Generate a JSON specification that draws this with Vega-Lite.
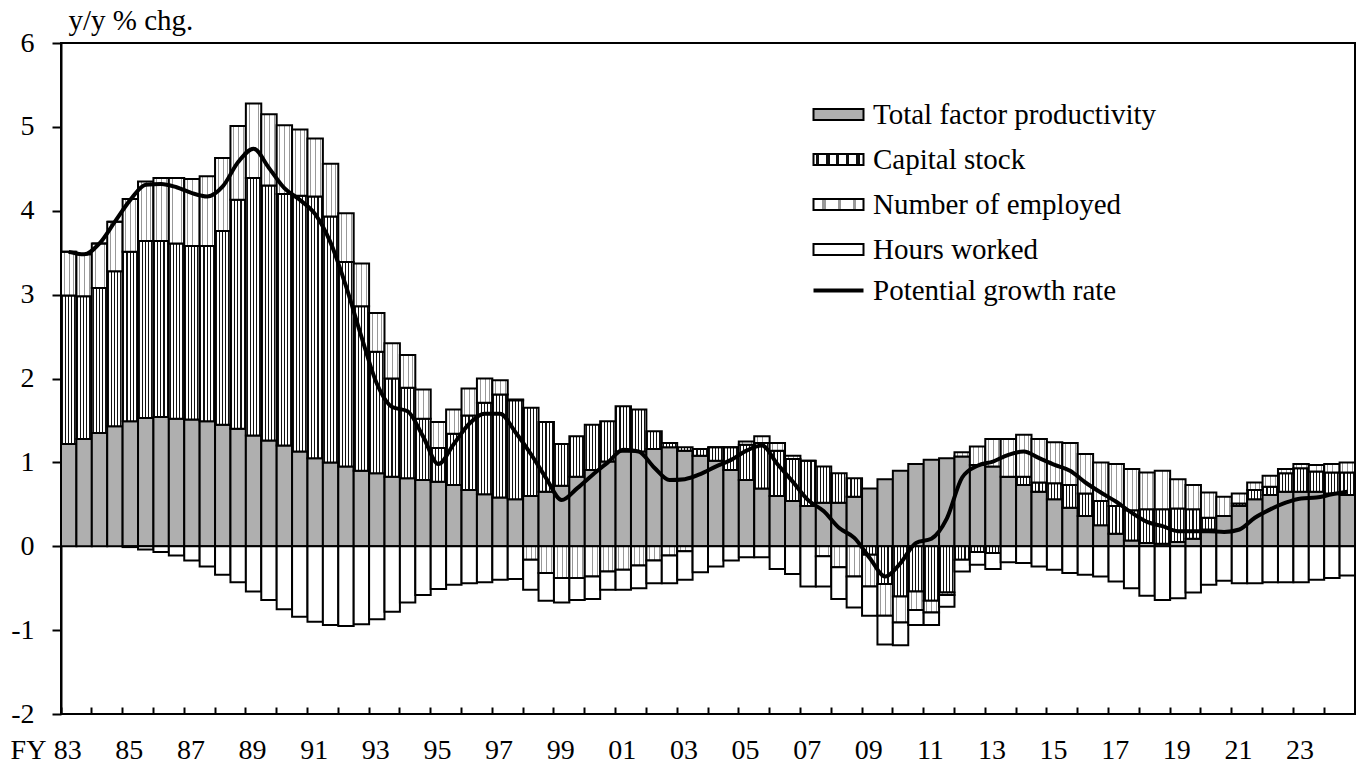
{
  "$schema": "https://vega.github.io/schema/vega-lite/v6.json",
  "width": 1294,
  "height": 671,
  "autosize": "none",
  "padding": {"left": 61, "top": 43, "right": 5, "bottom": 51},
  "background": "white",
  "config": {"view": {"stroke": "black", "strokeWidth": 2}, "font": "Liberation Serif"},
  "data": {"values": [
    {"p":"1983H1","a_tfp":1.22,"b_cap":1.77,"c_emp":0.52,"d_hrs":0.00,"pot":3.51},
    {"p":"1983H2","a_tfp":1.28,"b_cap":1.70,"c_emp":0.50,"d_hrs":0.00,"pot":3.48},
    {"p":"1984H1","a_tfp":1.35,"b_cap":1.73,"c_emp":0.53,"d_hrs":0.00,"pot":3.61},
    {"p":"1984H2","a_tfp":1.43,"b_cap":1.85,"c_emp":0.59,"d_hrs":0.00,"pot":3.87},
    {"p":"1985H1","a_tfp":1.49,"b_cap":2.02,"c_emp":0.63,"d_hrs":-0.01,"pot":4.13},
    {"p":"1985H2","a_tfp":1.53,"b_cap":2.11,"c_emp":0.71,"d_hrs":-0.04,"pot":4.31},
    {"p":"1986H1","a_tfp":1.54,"b_cap":2.10,"c_emp":0.75,"d_hrs":-0.07,"pot":4.32},
    {"p":"1986H2","a_tfp":1.52,"b_cap":2.09,"c_emp":0.78,"d_hrs":-0.11,"pot":4.28},
    {"p":"1987H1","a_tfp":1.51,"b_cap":2.07,"c_emp":0.80,"d_hrs":-0.17,"pot":4.21},
    {"p":"1987H2","a_tfp":1.49,"b_cap":2.09,"c_emp":0.83,"d_hrs":-0.24,"pot":4.17},
    {"p":"1988H1","a_tfp":1.45,"b_cap":2.31,"c_emp":0.87,"d_hrs":-0.34,"pot":4.29},
    {"p":"1988H2","a_tfp":1.40,"b_cap":2.73,"c_emp":0.88,"d_hrs":-0.43,"pot":4.58},
    {"p":"1989H1","a_tfp":1.32,"b_cap":3.07,"c_emp":0.89,"d_hrs":-0.54,"pot":4.74},
    {"p":"1989H2","a_tfp":1.26,"b_cap":3.04,"c_emp":0.85,"d_hrs":-0.64,"pot":4.51},
    {"p":"1990H1","a_tfp":1.20,"b_cap":3.00,"c_emp":0.82,"d_hrs":-0.75,"pot":4.27},
    {"p":"1990H2","a_tfp":1.13,"b_cap":3.05,"c_emp":0.79,"d_hrs":-0.84,"pot":4.13},
    {"p":"1991H1","a_tfp":1.05,"b_cap":3.12,"c_emp":0.69,"d_hrs":-0.90,"pot":3.96},
    {"p":"1991H2","a_tfp":1.00,"b_cap":2.93,"c_emp":0.63,"d_hrs":-0.94,"pot":3.62},
    {"p":"1992H1","a_tfp":0.95,"b_cap":2.44,"c_emp":0.58,"d_hrs":-0.95,"pot":3.10},
    {"p":"1992H2","a_tfp":0.90,"b_cap":1.96,"c_emp":0.51,"d_hrs":-0.93,"pot":2.50},
    {"p":"1993H1","a_tfp":0.87,"b_cap":1.45,"c_emp":0.46,"d_hrs":-0.87,"pot":1.94},
    {"p":"1993H2","a_tfp":0.83,"b_cap":1.17,"c_emp":0.42,"d_hrs":-0.78,"pot":1.66},
    {"p":"1994H1","a_tfp":0.81,"b_cap":1.08,"c_emp":0.39,"d_hrs":-0.67,"pot":1.61},
    {"p":"1994H2","a_tfp":0.79,"b_cap":0.73,"c_emp":0.35,"d_hrs":-0.58,"pot":1.31},
    {"p":"1995H1","a_tfp":0.77,"b_cap":0.40,"c_emp":0.31,"d_hrs":-0.51,"pot":0.98},
    {"p":"1995H2","a_tfp":0.73,"b_cap":0.61,"c_emp":0.29,"d_hrs":-0.46,"pot":1.22},
    {"p":"1996H1","a_tfp":0.67,"b_cap":0.89,"c_emp":0.32,"d_hrs":-0.44,"pot":1.46},
    {"p":"1996H2","a_tfp":0.62,"b_cap":1.09,"c_emp":0.29,"d_hrs":-0.43,"pot":1.58},
    {"p":"1997H1","a_tfp":0.58,"b_cap":1.23,"c_emp":0.17,"d_hrs":-0.40,"pot":1.58},
    {"p":"1997H2","a_tfp":0.56,"b_cap":1.18,"c_emp":0.01,"d_hrs":-0.39,"pot":1.36},
    {"p":"1998H1","a_tfp":0.60,"b_cap":1.05,"c_emp":-0.16,"d_hrs":-0.36,"pot":1.10},
    {"p":"1998H2","a_tfp":0.65,"b_cap":0.83,"c_emp":-0.32,"d_hrs":-0.33,"pot":0.81},
    {"p":"1999H1","a_tfp":0.72,"b_cap":0.50,"c_emp":-0.38,"d_hrs":-0.29,"pot":0.55},
    {"p":"1999H2","a_tfp":0.83,"b_cap":0.48,"c_emp":-0.38,"d_hrs":-0.26,"pot":0.69},
    {"p":"2000H1","a_tfp":0.91,"b_cap":0.54,"c_emp":-0.36,"d_hrs":-0.27,"pot":0.85},
    {"p":"2000H2","a_tfp":1.01,"b_cap":0.48,"c_emp":-0.30,"d_hrs":-0.22,"pot":1.00},
    {"p":"2001H1","a_tfp":1.13,"b_cap":0.54,"c_emp":-0.28,"d_hrs":-0.24,"pot":1.15},
    {"p":"2001H2","a_tfp":1.13,"b_cap":0.50,"c_emp":-0.23,"d_hrs":-0.27,"pot":1.13},
    {"p":"2002H1","a_tfp":1.16,"b_cap":0.21,"c_emp":-0.17,"d_hrs":-0.27,"pot":0.94},
    {"p":"2002H2","a_tfp":1.18,"b_cap":0.05,"c_emp":-0.11,"d_hrs":-0.33,"pot":0.79},
    {"p":"2003H1","a_tfp":1.14,"b_cap":0.04,"c_emp":-0.06,"d_hrs":-0.34,"pot":0.80},
    {"p":"2003H2","a_tfp":1.08,"b_cap":0.08,"c_emp":0.00,"d_hrs":-0.31,"pot":0.86},
    {"p":"2004H1","a_tfp":1.02,"b_cap":0.16,"c_emp":0.00,"d_hrs":-0.24,"pot":0.95},
    {"p":"2004H2","a_tfp":0.91,"b_cap":0.27,"c_emp":0.00,"d_hrs":-0.17,"pot":1.03},
    {"p":"2005H1","a_tfp":0.79,"b_cap":0.42,"c_emp":0.04,"d_hrs":-0.13,"pot":1.14},
    {"p":"2005H2","a_tfp":0.69,"b_cap":0.54,"c_emp":0.08,"d_hrs":-0.13,"pot":1.20},
    {"p":"2006H1","a_tfp":0.60,"b_cap":0.54,"c_emp":0.09,"d_hrs":-0.27,"pot":0.98},
    {"p":"2006H2","a_tfp":0.54,"b_cap":0.50,"c_emp":0.04,"d_hrs":-0.33,"pot":0.77},
    {"p":"2007H1","a_tfp":0.48,"b_cap":0.54,"c_emp":0.00,"d_hrs":-0.48,"pot":0.55},
    {"p":"2007H2","a_tfp":0.52,"b_cap":0.43,"c_emp":-0.12,"d_hrs":-0.36,"pot":0.42},
    {"p":"2008H1","a_tfp":0.52,"b_cap":0.35,"c_emp":-0.25,"d_hrs":-0.38,"pot":0.22},
    {"p":"2008H2","a_tfp":0.59,"b_cap":0.22,"c_emp":-0.36,"d_hrs":-0.37,"pot":0.10},
    {"p":"2009H1","a_tfp":0.69,"b_cap":-0.10,"c_emp":-0.38,"d_hrs":-0.35,"pot":-0.14},
    {"p":"2009H2","a_tfp":0.80,"b_cap":-0.45,"c_emp":-0.38,"d_hrs":-0.34,"pot":-0.36},
    {"p":"2010H1","a_tfp":0.90,"b_cap":-0.60,"c_emp":-0.31,"d_hrs":-0.27,"pot":-0.20},
    {"p":"2010H2","a_tfp":0.98,"b_cap":-0.54,"c_emp":-0.22,"d_hrs":-0.18,"pot":0.04},
    {"p":"2011H1","a_tfp":1.03,"b_cap":-0.65,"c_emp":-0.14,"d_hrs":-0.15,"pot":0.09},
    {"p":"2011H2","a_tfp":1.05,"b_cap":-0.55,"c_emp":-0.03,"d_hrs":-0.14,"pot":0.33},
    {"p":"2012H1","a_tfp":1.07,"b_cap":-0.16,"c_emp":0.05,"d_hrs":-0.14,"pot":0.82},
    {"p":"2012H2","a_tfp":0.97,"b_cap":-0.07,"c_emp":0.22,"d_hrs":-0.15,"pot":0.96},
    {"p":"2013H1","a_tfp":0.95,"b_cap":-0.08,"c_emp":0.33,"d_hrs":-0.19,"pot":1.01},
    {"p":"2013H2","a_tfp":0.83,"b_cap":0.00,"c_emp":0.45,"d_hrs":-0.19,"pot":1.09},
    {"p":"2014H1","a_tfp":0.73,"b_cap":0.10,"c_emp":0.50,"d_hrs":-0.20,"pot":1.13},
    {"p":"2014H2","a_tfp":0.65,"b_cap":0.11,"c_emp":0.52,"d_hrs":-0.24,"pot":1.05},
    {"p":"2015H1","a_tfp":0.56,"b_cap":0.19,"c_emp":0.49,"d_hrs":-0.28,"pot":0.97},
    {"p":"2015H2","a_tfp":0.46,"b_cap":0.27,"c_emp":0.50,"d_hrs":-0.32,"pot":0.90},
    {"p":"2016H1","a_tfp":0.36,"b_cap":0.27,"c_emp":0.47,"d_hrs":-0.34,"pot":0.76},
    {"p":"2016H2","a_tfp":0.25,"b_cap":0.29,"c_emp":0.46,"d_hrs":-0.36,"pot":0.64},
    {"p":"2017H1","a_tfp":0.15,"b_cap":0.33,"c_emp":0.50,"d_hrs":-0.42,"pot":0.53},
    {"p":"2017H2","a_tfp":0.07,"b_cap":0.36,"c_emp":0.49,"d_hrs":-0.50,"pot":0.40},
    {"p":"2018H1","a_tfp":0.04,"b_cap":0.40,"c_emp":0.44,"d_hrs":-0.59,"pot":0.29},
    {"p":"2018H2","a_tfp":0.03,"b_cap":0.41,"c_emp":0.46,"d_hrs":-0.64,"pot":0.24},
    {"p":"2019H1","a_tfp":0.05,"b_cap":0.40,"c_emp":0.35,"d_hrs":-0.62,"pot":0.18},
    {"p":"2019H2","a_tfp":0.09,"b_cap":0.35,"c_emp":0.29,"d_hrs":-0.55,"pot":0.18},
    {"p":"2020H1","a_tfp":0.20,"b_cap":0.14,"c_emp":0.30,"d_hrs":-0.46,"pot":0.18},
    {"p":"2020H2","a_tfp":0.36,"b_cap":0.00,"c_emp":0.23,"d_hrs":-0.41,"pot":0.17},
    {"p":"2021H1","a_tfp":0.48,"b_cap":0.03,"c_emp":0.12,"d_hrs":-0.44,"pot":0.20},
    {"p":"2021H2","a_tfp":0.56,"b_cap":0.11,"c_emp":0.09,"d_hrs":-0.44,"pot":0.34},
    {"p":"2022H1","a_tfp":0.61,"b_cap":0.10,"c_emp":0.13,"d_hrs":-0.43,"pot":0.44},
    {"p":"2022H2","a_tfp":0.65,"b_cap":0.22,"c_emp":0.05,"d_hrs":-0.43,"pot":0.52},
    {"p":"2023H1","a_tfp":0.65,"b_cap":0.28,"c_emp":0.05,"d_hrs":-0.43,"pot":0.57},
    {"p":"2023H2","a_tfp":0.65,"b_cap":0.24,"c_emp":0.08,"d_hrs":-0.40,"pot":0.58},
    {"p":"2024H1","a_tfp":0.63,"b_cap":0.25,"c_emp":0.10,"d_hrs":-0.38,"pot":0.62},
    {"p":"2024H2","a_tfp":0.61,"b_cap":0.27,"c_emp":0.12,"d_hrs":-0.35,"pot":0.65}
  ]},
  "layer": [
    {
      "transform": [{"fold": ["a_tfp", "b_cap", "c_emp", "d_hrs"], "as": ["key", "value"]}],
      "mark": {"type": "bar", "stroke": "black", "strokeWidth": 2},
      "encoding": {
        "x": {
          "field": "p", "type": "ordinal",
          "scale": {"paddingInner": 0, "paddingOuter": 0},
          "axis": {
            "values": ["1983H1","1984H1","1985H1","1986H1","1987H1","1988H1","1989H1","1990H1","1991H1","1992H1","1993H1","1994H1","1995H1","1996H1","1997H1","1998H1","1999H1","2000H1","2001H1","2002H1","2003H1","2004H1","2005H1","2006H1","2007H1","2008H1","2009H1","2010H1","2011H1","2012H1","2013H1","2014H1","2015H1","2016H1","2017H1","2018H1","2019H1","2020H1","2021H1","2022H1","2023H1","2024H1"],
            "bandPosition": 0,
            "offset": -7,
            "domain": false,
            "ticks": true,
            "labelExpr": "toNumber(slice(datum.value,0,4)) % 2 == 1 ? slice(datum.value,2,4) : ''",
            "labelAngle": 0,
            "labelFont": "Liberation Serif",
            "labelFontSize": 28,
            "labelColor": "black",
            "labelBaseline": "alphabetic",
            "labelPadding": 44,
            "labelOffset": -1,
            "labelOverlap": false,
            "labelFlush": false,
            "labelBound": false,
            "tickSize": 7,
            "tickWidth": 2,
            "tickColor": "black",
            "grid": false,
            "title": "FY",
            "titleX": -33,
            "titleY": 51,
            "titleAlign": "center",
            "titleBaseline": "alphabetic",
            "titleFont": "Liberation Serif",
            "titleFontSize": 28,
            "titleFontWeight": "normal",
            "titleColor": "black"
          }
        },
        "y": {
          "field": "value", "type": "quantitative", "stack": "zero",
          "scale": {"domain": [-2, 6], "nice": false, "zero": false},
          "axis": {
            "values": [-2, -1, 0, 1, 2, 3, 4, 5, 6],
            "labelExpr": "toString(datum.value)",
            "ticks": true,
            "tickSize": 9,
            "tickWidth": 2,
            "tickColor": "black",
            "domainColor": "black",
            "domainWidth": 2,
            "labelPadding": 18,
            "labelFont": "Liberation Serif",
            "labelFontSize": 28,
            "labelColor": "black",
            "labelFlush": false,
            "grid": false,
            "title": "y/y % chg.",
            "titleAngle": 0,
            "titleAlign": "left",
            "titleBaseline": "alphabetic",
            "titleX": 7,
            "titleY": -14,
            "titleFont": "Liberation Serif",
            "titleFontSize": 29,
            "titleFontWeight": "normal",
            "titleColor": "black"
          }
        },
        "order": {"field": "key", "sort": "ascending"},
        "fill": {
          "condition": [
            {"test": "datum.key === 'b_cap'", "value": {"gradient": "linear", "id": "hatch", "x1": 0, "y1": 0, "x2": 1, "y2": 0, "stops": [
              {"offset": 0, "color": "#ffffff"}, {"offset": 0.05, "color": "#ffffff"}, {"offset": 0.05, "color": "#111111"}, {"offset": 0.12, "color": "#111111"}, {"offset": 0.12, "color": "#ffffff"},
              {"offset": 0.25, "color": "#ffffff"}, {"offset": 0.25, "color": "#111111"}, {"offset": 0.32, "color": "#111111"}, {"offset": 0.32, "color": "#ffffff"},
              {"offset": 0.45, "color": "#ffffff"}, {"offset": 0.45, "color": "#111111"}, {"offset": 0.52, "color": "#111111"}, {"offset": 0.52, "color": "#ffffff"},
              {"offset": 0.65, "color": "#ffffff"}, {"offset": 0.65, "color": "#111111"}, {"offset": 0.72, "color": "#111111"}, {"offset": 0.72, "color": "#ffffff"},
              {"offset": 0.85, "color": "#ffffff"}, {"offset": 0.85, "color": "#111111"}, {"offset": 0.92, "color": "#111111"}, {"offset": 0.92, "color": "#ffffff"},
              {"offset": 1, "color": "#ffffff"}]}},
            {"test": "datum.key === 'c_emp'", "value": {"gradient": "linear", "id": "dots", "x1": 0, "y1": 0, "x2": 1, "y2": 0, "stops": [
              {"offset": 0, "color": "#ffffff"}, {"offset": 0.18, "color": "#ffffff"}, {"offset": 0.18, "color": "#999999"}, {"offset": 0.24, "color": "#999999"}, {"offset": 0.24, "color": "#ffffff"},
              {"offset": 0.5, "color": "#ffffff"}, {"offset": 0.5, "color": "#999999"}, {"offset": 0.56, "color": "#999999"}, {"offset": 0.56, "color": "#ffffff"},
              {"offset": 0.8, "color": "#ffffff"}, {"offset": 0.8, "color": "#999999"}, {"offset": 0.86, "color": "#999999"}, {"offset": 0.86, "color": "#ffffff"},
              {"offset": 1, "color": "#ffffff"}]}}
          ],
          "field": "key", "type": "nominal",
          "scale": {"domain": ["a_tfp", "b_cap", "c_emp", "d_hrs"], "range": ["#afafaf", "url(#hatch)", "url(#dots)", "#ffffff"]},
          "legend": {
            "orient": "none",
            "legendX": 763,
            "legendY": 57,
            "title": null,
            "symbolType": "M-2.5,-0.55H2.5V0.55H-2.5Z",
            "symbolSize": 400,
            "symbolStrokeColor": "black",
            "symbolStrokeWidth": 2,
            "symbolOpacity": 1,
            "labelFont": "Liberation Serif",
            "labelFontSize": 29,
            "labelColor": "black",
            "labelOffset": 20,
            "rowPadding": 15,
            "labelLimit": 400,
            "labelExpr": "datum.label == 'a_tfp' ? 'Total factor productivity' : datum.label == 'b_cap' ? 'Capital stock' : datum.label == 'c_emp' ? 'Number of employed' : 'Hours worked'"
          }
        }
      }
    },
    {
      "mark": {"type": "line", "interpolate": "monotone", "strokeWidth": 4},
      "encoding": {
        "x": {"field": "p", "type": "ordinal", "title": "FY"},
        "y": {"field": "pot", "type": "quantitative", "title": "y/y % chg."},
        "stroke": {
          "datum": "Potential growth rate", "type": "nominal",
          "scale": {"range": ["black"]},
          "legend": {
            "orient": "none",
            "legendX": 763,
            "legendY": 233,
            "title": null,
            "symbolType": "M-2.5,0H2.5",
            "symbolSize": 400,
            "symbolStrokeWidth": 4,
            "labelFont": "Liberation Serif",
            "labelFontSize": 29,
            "labelColor": "black",
            "labelOffset": 20,
            "labelLimit": 400
          }
        }
      }
    }
  ]
}
